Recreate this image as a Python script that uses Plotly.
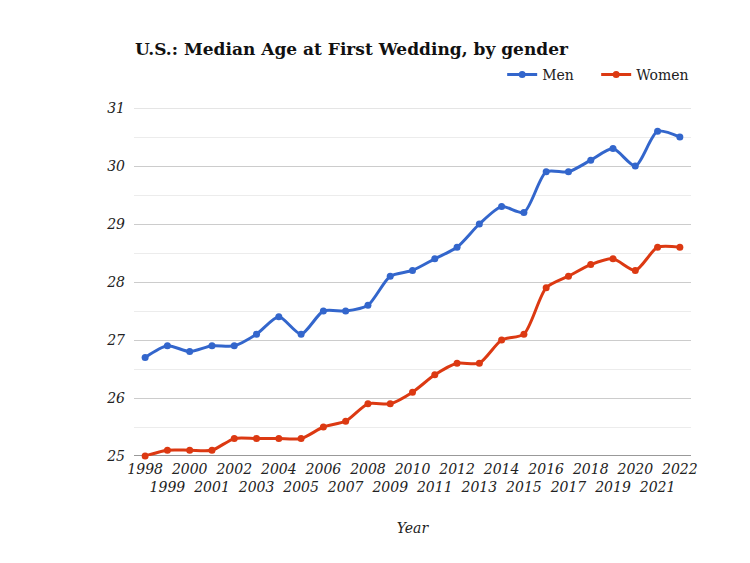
import plotly.graph_objects as go

# Median age at first wedding in the U.S.
years = list(range(1998, 2023))
men = [26.7, 26.9, 26.8, 26.9, 26.9, 27.1, 27.4, 27.1, 27.5, 27.5, 27.6, 28.1, 28.2,
       28.4, 28.6, 29.0, 29.3, 29.2, 29.9, 29.9, 30.1, 30.3, 30.0, 30.6, 30.5]
women = [25.0, 25.1, 25.1, 25.1, 25.3, 25.3, 25.3, 25.3, 25.5, 25.6, 25.9, 25.9, 26.1,
         26.4, 26.6, 26.6, 27.0, 27.1, 27.9, 28.1, 28.3, 28.4, 28.2, 28.6, 28.6]
y_ticks = [25, 26, 27, 28, 29, 30, 31]

# odd years go on a second row, like the original
x_labels = [str(y) if y % 2 == 0 else "<br>" + str(y) for y in years]

font = "DejaVu Serif"

fig = go.Figure()
fig.add_trace(go.Scatter(
    x=years, y=men, name="Men", mode="lines+markers",
    line=dict(color="#3366cc", width=3, shape="spline", smoothing=0.7),
    marker=dict(size=7, color="#3366cc"), cliponaxis=False
))
fig.add_trace(go.Scatter(
    x=years, y=women, name="Women", mode="lines+markers",
    line=dict(color="#dc3912", width=3, shape="spline", smoothing=0.7),
    marker=dict(size=7, color="#dc3912"), cliponaxis=False
))

# page body adds an 8px offset, margins are set to compensate
fig.update_layout(
    width=750, height=563,
    margin=dict(l=126, r=67, t=100, b=115, autoexpand=False),
    plot_bgcolor="white", paper_bgcolor="white",
    font=dict(family=font, color="#222222"),
    title=dict(text="<b>U.S.: Median Age at First Wedding, by gender</b>",
               x=127 / 750, xanchor="left", y=1 - 41 / 563, yanchor="middle",
               font=dict(size=17, color="#111111")),
    legend=dict(orientation="h", x=0.661, xanchor="left", y=1.095, yanchor="middle",
                font=dict(size=14, color="#222222"), itemwidth=30,
                entrywidth=49, entrywidthmode="pixels"),
    showlegend=True,
)

fig.update_xaxes(
    range=[1997.5, 2022.5], tickvals=years, ticktext=x_labels,
    tickangle=0, showgrid=False, zeroline=False, showline=False,
    ticklabelstandoff=3,
    tickfont=dict(size=14, style="italic", color="#222222"),
    title=dict(text="Year", font=dict(size=14, style="italic", color="#222222"), standoff=28),
)
fig.update_yaxes(
    range=[25, 31], tickvals=y_ticks, showgrid=True, gridcolor="#cccccc",
    zeroline=False, showline=False, ticks="", ticklabelstandoff=8,
    tickfont=dict(size=14, style="italic", color="#222222"),
    minor=dict(dtick=0.5, showgrid=True, gridcolor="#ececec"),
)
fig.add_shape(type="line", xref="paper", yref="y", x0=0, x1=1, y0=25, y1=25,
              line=dict(color="#333333", width=1), layer="below")
fig.add_shape(type="line", xref="paper", yref="y", x0=0, x1=1, y0=31, y1=31,
              line=dict(color="#cccccc", width=1), layer="below")

fig.write_html("out.html")
